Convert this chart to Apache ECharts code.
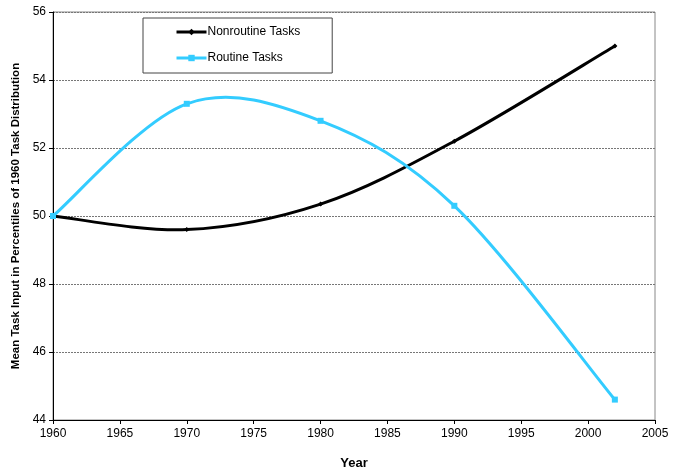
<!DOCTYPE html>
<html>
<head>
<meta charset="utf-8">
<script src="https://cdn.jsdelivr.net/npm/echarts@6/dist/echarts.min.js"></script>
<style>
  html, body { margin: 0; padding: 0; background: #fff; }
  #chart { width: 673px; height: 470px; }
</style>
</head>
<body>
<div id="chart"></div>
<script>
// data
const years = [1960, 1970, 1980, 1990, 2002]
const nonroutine = [50.0, 49.6, 50.35, 52.2, 55.0]
const routine = [50.0, 53.3, 52.8, 50.3, 44.6]

const BLUE = '#33ccff'
const pairs = (xs, ys) => xs.map((x, i) => [x, ys[i]])

// Excel-like smoothed line: catmull-rom segments turned into beziers, in pixel space
function smoothSegment(xs, ys, color) {
  return function (params, api) {
    const i = params.dataIndex
    const n = xs.length
    if (i >= n - 1) return null
    const p = k => api.coord([xs[Math.max(0, Math.min(n - 1, k))], ys[Math.max(0, Math.min(n - 1, k))]])
    const p0 = p(i - 1), p1 = p(i), p2 = p(i + 1), p3 = p(i + 2)
    return {
      type: 'bezierCurve',
      shape: {
        x1: p1[0], y1: p1[1],
        x2: p2[0], y2: p2[1],
        cpx1: p1[0] + (p2[0] - p0[0]) / 6, cpy1: p1[1] + (p2[1] - p0[1]) / 6,
        cpx2: p2[0] - (p3[0] - p1[0]) / 6, cpy2: p2[1] - (p3[1] - p1[1]) / 6
      },
      style: { stroke: color, lineWidth: 3, fill: null, lineCap: 'round' }
    }
  }
}

const chart = echarts.init(document.getElementById('chart'))
chart.setOption({
  animation: false,
  backgroundColor: '#fff',
  textStyle: { fontFamily: 'Liberation Sans, Arial, sans-serif' },
  grid: {
    left: 53, right: 18, top: 12, bottom: 50,
    outerBoundsMode: 'none',
    containLabel: false,
    show: true, borderColor: '#888', borderWidth: 1
  },
  legend: {
    orient: 'vertical',
    left: 143, top: 18,
    padding: [8, 32, 9, 32],
    itemGap: 14,
    itemWidth: 30,
    itemHeight: 8,
    borderColor: '#444',
    borderWidth: 1,
    textStyle: { fontSize: 12, color: '#000', padding: [0, 0, 0, -4] },
    data: [
      { name: 'Nonroutine Tasks', lineStyle: { color: '#000', width: 3, opacity: 1 } },
      { name: 'Routine Tasks', lineStyle: { color: BLUE, width: 3, opacity: 1 } }
    ]
  },
  xAxis: {
    type: 'value',
    min: 1960, max: 2005, interval: 5,
    name: 'Year',
    nameLocation: 'middle',
    nameGap: 37,
    nameTextStyle: { fontWeight: 'bold', fontSize: 13, color: '#000' },
    axisLine: { lineStyle: { color: '#000' } },
    axisTick: { length: 4, lineStyle: { color: '#000' } },
    axisLabel: { fontSize: 12, color: '#000', margin: 8, formatter: v => String(v) },
    splitLine: { show: false }
  },
  yAxis: {
    type: 'value',
    min: 44, max: 56, interval: 2,
    name: 'Mean Task Input in Percentiles of 1960 Task Distribution',
    nameLocation: 'middle',
    nameGap: 31,
    nameTextStyle: { fontWeight: 'bold', fontSize: 11.5, color: '#000' },
    axisLine: { show: true, lineStyle: { color: '#000' } },
    axisTick: { show: true, length: 4, lineStyle: { color: '#000' } },
    axisLabel: { fontSize: 12, color: '#000', margin: 7 },
    splitLine: { lineStyle: { color: '#777', type: [2, 1], width: 1 } }
  },
  series: [
    {
      name: 'Nonroutine curve',
      type: 'custom',
      renderItem: smoothSegment(years, nonroutine, '#000'),
      data: pairs(years, nonroutine),
      z: 2
    },
    {
      name: 'Routine curve',
      type: 'custom',
      renderItem: smoothSegment(years, routine, BLUE),
      data: pairs(years, routine),
      z: 3
    },
    {
      name: 'Nonroutine Tasks',
      type: 'line',
      data: pairs(years, nonroutine),
      symbol: 'diamond',
      symbolSize: 5,
      itemStyle: { color: '#000' },
      lineStyle: { opacity: 0 },
      z: 4
    },
    {
      name: 'Routine Tasks',
      type: 'line',
      data: pairs(years, routine),
      symbol: 'rect',
      symbolSize: 6,
      itemStyle: { color: BLUE },
      lineStyle: { opacity: 0 },
      z: 5
    }
  ]
})
</script>
</body>
</html>
